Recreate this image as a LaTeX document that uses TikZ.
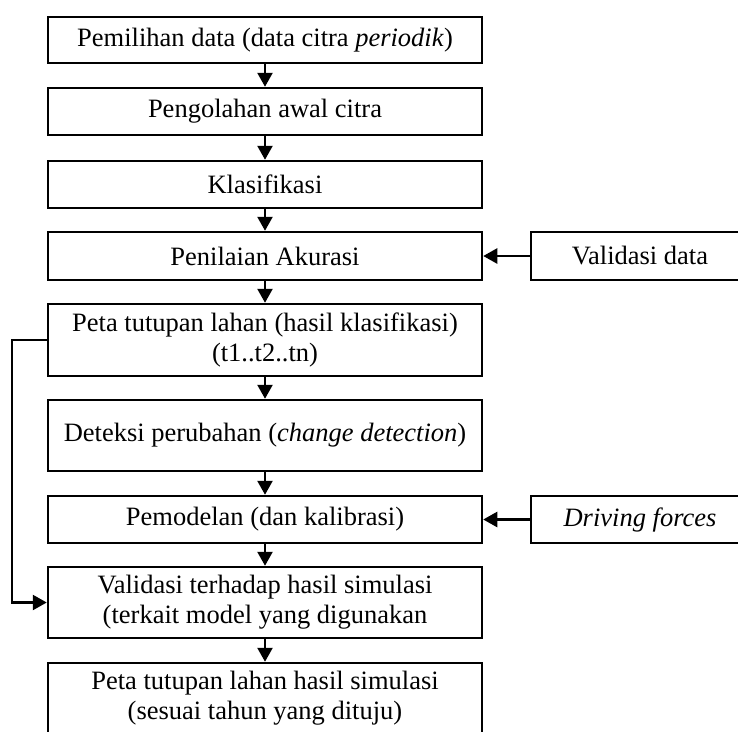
\documentclass[tikz,border=0pt]{standalone}
\usepackage{fontspec}
\setmainfont{Liberation Serif}
\usetikzlibrary{arrows.meta}
\begin{document}
\begin{tikzpicture}[x=1pt,y=-1pt,
  box/.style={draw, line width=2.5pt, fill=white, minimum width=434pt, inner sep=0pt, align=center, font=\fontsize{26.5}{30}\selectfont},
  sidebox/.style={draw, line width=2.5pt, fill=white, minimum width=218pt, inner sep=0pt, align=center, font=\fontsize{26.5}{30}\selectfont},
  arr/.style={line width=2.5pt, -{Triangle[length=14pt,width=15pt]}}]
\useasboundingbox (0,0) rectangle (738,731);
\clip (0,0) rectangle (738,731);
\fill[white] (0,0) rectangle (738,731);
\node[box, minimum height=46pt] (b1) at (265,40) {Pemilihan data (data citra \textit{periodik})};
\node[box, minimum height=47pt] (b2) at (265,111.5) {Pengolahan awal citra};
\node[box, minimum height=47pt] (b3) at (265,184.5) {Klasifikasi};
\node[box, minimum height=48pt] (b4) at (265,256) {Penilaian Akurasi};
\node[box, minimum height=72pt] (b5) at (265,340) {Peta tutupan lahan (hasil klasifikasi)\\(t1..t2..tn)};
\node[box, minimum height=71pt] (b6) at (265,435.5) {Deteksi perubahan (\textit{change detection})};
\node[box, minimum height=47pt] (b7) at (265,519.5) {Pemodelan (dan kalibrasi)};
\node[box, minimum height=71pt] (b8) at (265,602.5) {Validasi terhadap hasil simulasi\\(terkait model yang digunakan};
\node[box, minimum height=71pt] (b9) at (265,698.5) {Peta tutupan lahan hasil simulasi\\(sesuai tahun yang dituju)};
\node[sidebox, minimum height=48pt] (v) at (640,256) {Validasi data};
\node[sidebox, minimum height=47pt] (d) at (640,519.5) {\textit{Driving forces}};
\draw[arr] (b1) -- (b2);
\draw[arr] (b2) -- (b3);
\draw[arr] (b3) -- (b4);
\draw[arr] (b4) -- (b5);
\draw[arr] (b5) -- (b6);
\draw[arr] (b6) -- (b7);
\draw[arr] (b7) -- (b8);
\draw[arr] (b8) -- (b9);
\draw[arr] (v) -- (b4);
\draw[arr] (d) -- (b7);
\coordinate (fb) at (12,340);
\draw[arr] (b5.west) -- (fb) |- (b8.west);
\end{tikzpicture}
\end{document}
